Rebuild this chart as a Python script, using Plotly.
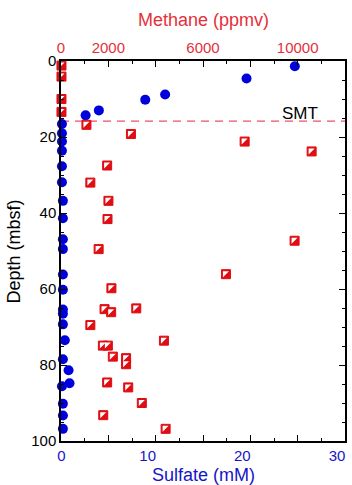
import plotly.graph_objects as go

# ---- data ----
sulfate_depth = [1.4, 4.6, 8.8, 10.2, 13.0, 14.3, 16.6, 19.0, 21.2, 23.6, 27.7, 31.9,
                 36.8, 41.4, 46.9, 49.5, 56.2, 60.2, 65.4, 66.5, 69.3, 73.5, 78.5,
                 81.4, 84.8, 85.6, 90.2, 93.3, 96.8]
sulfate_mM = [24.7, 19.6, 11.0, 8.9, 4.0, 2.6, 0.1, 0.1, 0.1, 0.1, 0.1, 0.1,
              0.2, 0.2, 0.2, 0.2, 0.2, 0.2, 0.2, 0.2, 0.2, 0.4, 0.2,
              0.8, 0.9, 0.1, 0.2, 0.2, 0.2]

methane_depth = [1.2, 4.1, 10.0, 13.4, 16.8, 19.2, 21.2, 23.8, 27.5, 32.0, 36.8, 41.6,
                 47.3, 49.5, 56.1, 59.8, 65.1, 65.3, 66.1, 69.5, 73.6, 74.9, 74.9,
                 77.8, 78.2, 79.8, 84.6, 85.9, 90.0, 93.2, 96.8]
methane_ppmv = [20, 20, 20, 20, 1075, 2955, 7760, 10590, 1950, 1240, 2005, 1965,
                9870, 1590, 6970, 2130, 3180, 1840, 2120, 1240, 4350, 1770, 1980,
                2190, 2750, 2750, 1950, 2840, 3415, 1785, 4420]

smt_depth = 15.8

NB = "\u00a0"
sulfate_tickvals = [0, 5, 10, 15, 20, 25, 30]
sulfate_ticktext = [NB * 4 + "0", "", "10", "", "20", "", "30"]
methane_tickvals = [0, 2000, 4000, 6000, 8000, 10000, 12000]
methane_ticktext = ["0", "2000", "", "6000", "", "10000", ""]
depth_tickvals = [0, 20, 40, 60, 80, 100]
depth_ticktext = ["0", "20", "40", "60", "80", "100"]

RED = "#e00d12"
RED_TXT = "#e5303a"
BLUE = "#0000dc"
BLUE_TXT = "#1616c8"
FONT = "Liberation Sans, Arial, Helvetica, sans-serif"

fig = go.Figure()

fig.add_trace(go.Scatter(
    x=methane_ppmv, y=methane_depth, xaxis="x2", yaxis="y", mode="markers",
    marker=dict(symbol="square", size=9, color=RED, line=dict(color=RED, width=1)),
    cliponaxis=False, showlegend=False, name="Methane"))

fig.add_trace(go.Scatter(
    x=sulfate_mM, y=sulfate_depth, xaxis="x", yaxis="y", mode="markers",
    marker=dict(symbol="circle", size=10, color=BLUE, line=dict(width=0)),
    cliponaxis=False, showlegend=False, name="Sulfate"))

shapes = []
# white upper-left half of each methane marker
for m, d in zip(methane_ppmv, methane_depth):
    shapes.append(dict(type="path", xref="x2", yref="y", xsizemode="pixel", ysizemode="pixel",
                       xanchor=m, yanchor=d, path="M -3 3 L 3 3 L -3 -3 Z",
                       fillcolor="white", line=dict(width=0), layer="above"))
# SMT line
shapes.append(dict(type="line", xref="paper", yref="y", x0=0, x1=1, y0=smt_depth, y1=smt_depth,
                   line=dict(color="#ee4f6c", width=1.2, dash="8px,6px"), layer="below"))

axis_common = dict(showgrid=False, zeroline=False, showline=True, linecolor="black", linewidth=1.5,
                   ticks="inside", ticklen=6, tickwidth=1, tickcolor="black")

fig.update_layout(
    width=352, height=485,
    margin=dict(l=61, r=5, t=61, b=44),
    plot_bgcolor="white", paper_bgcolor="white",
    font=dict(family=FONT, size=15, color="black"),
    xaxis=dict(range=[0, 30], tickmode="array", tickvals=sulfate_tickvals, ticktext=sulfate_ticktext,
               tickfont=dict(color=BLUE_TXT, size=15), side="bottom", anchor="y",
               ticklabeloverflow="allow", ticklabelshift=-8,
               minor=dict(ticks="inside", ticklen=3, dtick=2.5, tick0=0, tickcolor="black"),
               **axis_common),
    xaxis2=dict(range=[0, 12000], tickmode="array", tickvals=methane_tickvals, ticktext=methane_ticktext,
                tickfont=dict(color=RED_TXT, size=15), side="top", overlaying="x", anchor="y",
                ticklabeloverflow="allow",
                minor=dict(ticks="inside", ticklen=3, dtick=1000, tick0=0, tickcolor="black"),
                **axis_common),
    yaxis=dict(range=[100, 0], tickmode="array", tickvals=depth_tickvals, ticktext=depth_ticktext,
               tickfont=dict(color="black", size=15), mirror="ticks",
               minor=dict(ticks="inside", ticklen=3, dtick=5, tick0=0, tickcolor="black"),
               **axis_common),
    shapes=shapes,
    annotations=[
        dict(text="Methane (ppmv)", xref="paper", yref="paper", x=0.5, y=1.108,
             xanchor="center", yanchor="middle", showarrow=False,
             font=dict(family=FONT, size=18, color=RED_TXT)),
        dict(text="Sulfate (mM)", xref="paper", yref="paper", x=0.5, y=-0.089,
             xanchor="center", yanchor="middle", showarrow=False,
             font=dict(family=FONT, size=18, color=BLUE_TXT)),
        dict(text="Depth (mbsf)", xref="paper", yref="paper", x=-0.164, y=0.5, textangle=-90,
             xanchor="center", yanchor="middle", showarrow=False,
             font=dict(family=FONT, size=18, color="black")),
        dict(text="SMT", xref="paper", yref="y", x=0.84, y=13.7,
             xanchor="center", yanchor="middle", showarrow=False,
             font=dict(family=FONT, size=17, color="black")),
    ],
)

fig.write_html("out.html")
